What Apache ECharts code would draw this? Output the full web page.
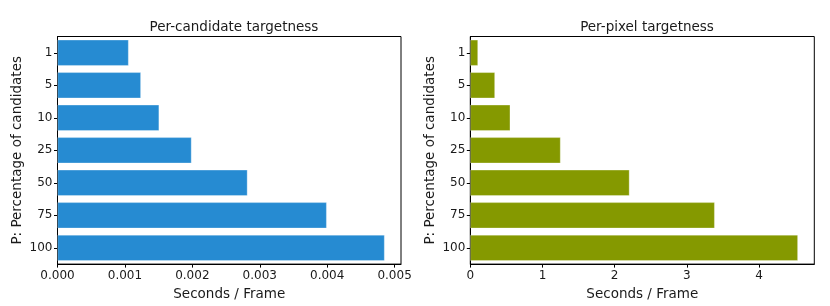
<!DOCTYPE html>
<html>
<head>
<meta charset="utf-8">
<script src="https://cdn.jsdelivr.net/npm/echarts@6/dist/echarts.min.js"></script>
<style>
html,body{margin:0;padding:0;background:#fff;}
#chart{width:830px;height:306px;}
</style>
</head>
<body>
<div id="chart"></div>
<script>
const categories = ['1', '5', '10', '25', '50', '75', '100'];
const perCandidate = [0.001055, 0.001237, 0.001508, 0.001988, 0.002818, 0.003993, 0.004852];
const perPixel = [0.107, 0.342, 0.554, 1.251, 2.206, 3.387, 4.540];
const titles = ['Per-candidate targetness', 'Per-pixel targetness'];
const xName = 'Seconds / Frame';
const yName = 'P: Percentage of candidates';

const FONT = 'DejaVu Sans';
const TXT = '#1a1a1a';
const chart = echarts.init(document.getElementById('chart'), null, {renderer: 'canvas'});

function xAxis(grid, max, interval, fmt) {
  return {
    type: 'value', gridIndex: grid, min: 0, max: max, interval: interval,
    name: xName, nameLocation: 'middle', nameGap: 21,
    nameTextStyle: {fontFamily: FONT, fontSize: 13.5, color: TXT},
    axisLine: {show: true, lineStyle: {color: '#000', width: 1}},
    axisTick: {show: true, length: 3.5, lineStyle: {color: '#000'}},
    splitLine: {show: false},
    axisLabel: {fontFamily: FONT, fontSize: 12, color: TXT, margin: 6, showMaxLabel: false, formatter: fmt}
  };
}
function yAxis(grid) {
  return {
    type: 'category', gridIndex: grid, data: categories, inverse: true,
    name: yName, nameLocation: 'middle', nameGap: 33, nameRotate: 90,
    nameTextStyle: {fontFamily: FONT, fontSize: 13.5, color: TXT},
    axisLine: {show: true, lineStyle: {color: '#000', width: 1}},
    axisTick: {show: true, length: 3.5, alignWithLabel: true, lineStyle: {color: '#000'}},
    axisLabel: {fontFamily: FONT, fontSize: 12, color: TXT, margin: 5}
  };
}

chart.setOption({
  backgroundColor: '#fff',
  animation: false,
  title: [
    {text: titles[0], left: 229, top: 15, textAlign: 'center', textStyle: {fontFamily: FONT, fontSize: 13.5, fontWeight: 'normal', color: TXT}},
    {text: titles[1], left: 642, top: 15, textAlign: 'center', textStyle: {fontFamily: FONT, fontSize: 13.5, fontWeight: 'normal', color: TXT}}
  ],
  grid: [
    {left: 57.5, top: 36.5, width: 343.5, height: 230.5, show: true, borderColor: '#000', borderWidth: 1, backgroundColor: 'transparent'},
    {left: 470.3, top: 36.5, width: 344, height: 230.5, show: true, borderColor: '#000', borderWidth: 1, backgroundColor: 'transparent'}
  ],
  xAxis: [
    xAxis(0, 0.005095, 0.001, v => v.toFixed(3)),
    xAxis(1, 4.767, 1, v => String(Math.round(v)))
  ],
  yAxis: [yAxis(0), yAxis(1)],
  series: [
    {type: 'bar', xAxisIndex: 0, yAxisIndex: 0, data: perCandidate, barCategoryGap: '20%',
     itemStyle: {color: '#268BD2', borderColor: 'rgba(255,255,255,0.5)', borderWidth: 0.6}},
    {type: 'bar', xAxisIndex: 1, yAxisIndex: 1, data: perPixel, barCategoryGap: '20%',
     itemStyle: {color: '#859900', borderColor: 'rgba(255,255,255,0.5)', borderWidth: 0.6}}
  ]
});
</script>
</body>
</html>
